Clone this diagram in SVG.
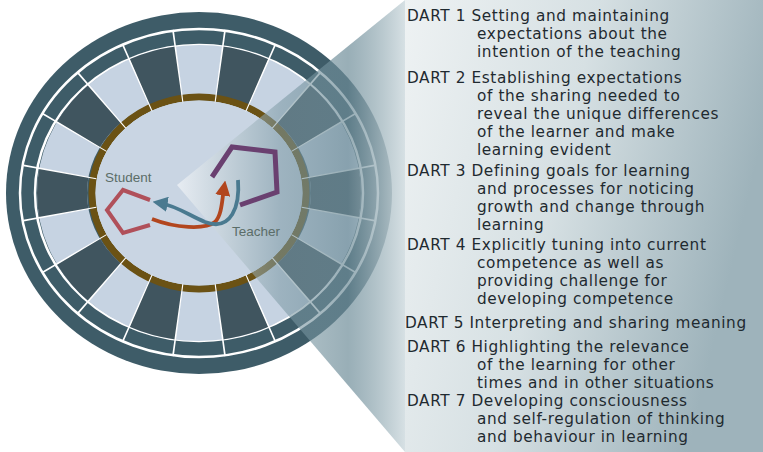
<svg xmlns="http://www.w3.org/2000/svg" width="763" height="452" viewBox="0 0 763 452">
<defs>
<style>
.t{font-family:"DejaVu Sans",Verdana,sans-serif;font-size:15.3px;letter-spacing:0.6px;fill:#1f2a30}
.l{font-family:"Liberation Sans",Arial,sans-serif;font-size:13.5px;fill:#5b6d68}
</style>
<linearGradient id="panel" x1="0" y1="0" x2="1" y2="0.3">
<stop offset="0" stop-color="#eef2f3"/><stop offset="0.5" stop-color="#d6e0e3"/><stop offset="1" stop-color="#9eb3bb"/>
</linearGradient>
<linearGradient id="cone" gradientUnits="userSpaceOnUse" x1="177" y1="0" x2="405" y2="0">
<stop offset="0" stop-color="#ffffff" stop-opacity="0.55"/>
<stop offset="0.45" stop-color="#7b98a3" stop-opacity="0.55"/>
<stop offset="0.75" stop-color="#6d8c98" stop-opacity="0.7"/>
<stop offset="1" stop-color="#d2dde1" stop-opacity="0.9"/>
</linearGradient>
<marker id="ar" viewBox="0 0 10 10" refX="5" refY="5" markerWidth="4" markerHeight="4" orient="auto"><path d="M0,0L10,5L0,10z" fill="#b2461e"/></marker>
<marker id="ab" viewBox="0 0 10 10" refX="5" refY="5" markerWidth="4" markerHeight="4" orient="auto"><path d="M0,0L10,5L0,10z" fill="#4a7a90"/></marker>
</defs>
<g id="wheel">
<ellipse cx="199" cy="193" rx="193" ry="181" fill="#3e5c68"/>
<ellipse cx="199" cy="193" rx="179" ry="164" fill="none" stroke="#fff" stroke-width="2.5"/>
<ellipse cx="199" cy="193" rx="164" ry="148" fill="none" stroke="#fff" stroke-width="2.5"/>
<ellipse cx="199" cy="193" rx="137" ry="123" fill="none" stroke="#c6d3e2" stroke-width="50"/>
<ellipse cx="199" cy="193" rx="137" ry="123" fill="none" stroke="#40555f" stroke-width="50" pathLength="360" stroke-dasharray="18 18" stroke-dashoffset="9"/>
<ellipse cx="199" cy="193" rx="104" ry="93" fill="#c9d5e3"/>
<ellipse cx="199" cy="193" rx="107" ry="96" fill="none" stroke="#6b5214" stroke-width="7"/>
<ellipse cx="199" cy="193" rx="141" ry="128" fill="none" stroke="#fff" stroke-width="74" pathLength="360" stroke-dasharray="0.6 17.4" stroke-dashoffset="-8.7"/>
<ellipse cx="199" cy="193" rx="103" ry="92" fill="none" stroke="#c9d5e3" stroke-width="1"/>
</g>
<g id="cone-overlay">
<polygon points="177,185 405,0 405,452" fill="url(#cone)"/>
</g>
<g id="panel-bg"><rect x="405" y="0" width="358" height="452" fill="url(#panel)"/></g>
<g id="student">
<polyline points="150,200 123,190 107,210 123,233 150,225" fill="none" stroke="#b0505a" stroke-width="4"/>
<text class="l" x="105" y="182">Student</text>
</g>
<g id="teacher">
<polyline points="212,177 232,147 275,152 277,192 240,205" fill="none" stroke="#6a4070" stroke-width="5"/>
<text class="l" x="232" y="236">Teacher</text>
</g>
<g id="connectors">
<path d="M152,219 C175,228 205,230 215,222 C222,215 222,200 224,188" fill="none" stroke="#b2461e" stroke-width="3.8" marker-end="url(#ar)"/>
<path d="M238,180 C240,205 232,232 205,222 C190,216 177,206 160,203" fill="none" stroke="#4a7a90" stroke-width="3.8" marker-end="url(#ab)"/>
</g>
<g id="text">
<text class="t" x="407" y="21">DART 1 Setting and maintaining</text>
<text class="t" x="477" y="39">expectations about the</text>
<text class="t" x="477" y="57">intention of the teaching</text>
<text class="t" x="407" y="83">DART 2 Establishing expectations</text>
<text class="t" x="477" y="101">of the sharing needed to</text>
<text class="t" x="477" y="119">reveal the unique differences</text>
<text class="t" x="477" y="137">of the learner and make</text>
<text class="t" x="477" y="155">learning evident</text>
<text class="t" x="407" y="176">DART 3 Defining goals for learning</text>
<text class="t" x="477" y="194">and processes for noticing</text>
<text class="t" x="477" y="212">growth and change through</text>
<text class="t" x="477" y="230">learning</text>
<text class="t" x="407" y="250">DART 4 Explicitly tuning into current</text>
<text class="t" x="477" y="268">competence as well as</text>
<text class="t" x="477" y="286">providing challenge for</text>
<text class="t" x="477" y="304">developing competence</text>
<text class="t" x="405" y="328">DART 5 Interpreting and sharing meaning</text>
<text class="t" x="407" y="352">DART 6 Highlighting the relevance</text>
<text class="t" x="477" y="370">of the learning for other</text>
<text class="t" x="477" y="388">times and in other situations</text>
<text class="t" x="407" y="406">DART 7 Developing consciousness</text>
<text class="t" x="477" y="424">and self-regulation of thinking</text>
<text class="t" x="477" y="442">and behaviour in learning</text>
</g>
</svg>
